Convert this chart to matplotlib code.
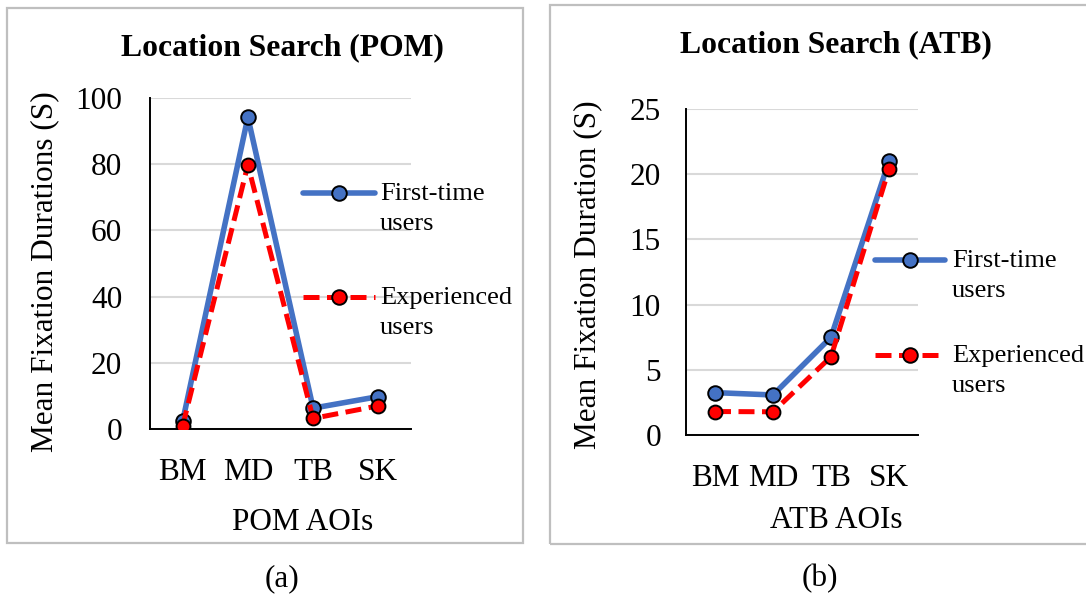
import matplotlib
matplotlib.use("Agg")
import matplotlib.pyplot as plt
from matplotlib.lines import Line2D
from matplotlib.patches import Rectangle

plt.rcParams["font.family"] = ["Liberation Serif", "DejaVu Serif"]

W, H = 1086, 594

aois = ["BM", "MD", "TB", "SK"]
pom_first_time = [2.3, 94.2, 6.3, 9.8]
pom_experienced = [0.9, 79.8, 3.2, 7.0]
atb_first_time = [3.25, 3.07, 7.5, 21.0]
atb_experienced = [1.8, 1.78, 6.0, 20.4]

blue = "#4472C4"
red = "#FF0000"
grid_col = "#D9D9D9"
border_col = "#BFBFBF"
red_dash = (0, (3.2, 1.5))


def px_axes(fig, x0, y0, x1, y1):
    return fig.add_axes([x0 / W, 1 - y1 / H, (x1 - x0) / W, (y1 - y0) / H])


def draw_panel(ax, first, exp, ymax, ystep, ypad):
    x = range(len(aois))
    ax.plot(x, first, color=blue, lw=4.0, marker="o", ms=10.5,
            mfc=blue, mec="black", mew=1.4, solid_capstyle="round", zorder=3)
    ax.plot(x, exp, color=red, lw=3.6, ls=red_dash, marker="o", ms=10,
            mfc=red, mec="black", mew=1.4, zorder=4)
    ax.set_xlim(-0.5, len(aois) - 0.5)
    ax.set_ylim(0, ymax)
    ax.set_yticks(range(0, ymax + 1, ystep))
    ax.set_xticks(list(x))
    ax.set_xticklabels(aois)
    ax.tick_params(axis="both", length=0, labelsize=22.5)
    ax.tick_params(axis="y", pad=ypad)
    ax.tick_params(axis="x", pad=21)
    ax.grid(axis="y", color=grid_col, lw=1.5)
    ax.set_axisbelow(True)
    for s in ["top", "right"]:
        ax.spines[s].set_visible(False)
    for s in ["left", "bottom"]:
        ax.spines[s].set_linewidth(1.4)
        ax.spines[s].set_color("black")
    ax.patch.set_alpha(0)


def legend(fig, x0, x1, xt, y_first, y_exp):
    for y, col, ls, lab, lw in [(y_first, blue, "-", "First-time\nusers", 4.0),
                                (y_exp, red, red_dash, "Experienced\nusers", 3.6)]:
        fig.add_artist(Line2D([x0 / W, x1 / W], [1 - y / H] * 2, color=col, lw=lw, ls=ls,
                              solid_capstyle="round"))
        fig.add_artist(Line2D([(x0 + x1) / 2 / W], [1 - y / H], marker="o", ms=10.5,
                              mfc=col, mec="black", mew=1.4))
        fig.text(xt / W, 1 - (y - 10) / H, lab, fontsize=19, va="top", ha="left",
                 linespacing=1.45)


fig = plt.figure(figsize=(W / 100, H / 100), dpi=100)

# panel borders
fig.add_artist(Rectangle((7 / W, 1 - 543 / H), (523 - 7) / W, (543 - 8) / H,
                         transform=fig.transFigure, fill=False, ec=border_col, lw=1.6))
fig.add_artist(Rectangle((550 / W, 1 - 544 / H), (1100 - 550) / W, (544 - 5) / H,
                         transform=fig.transFigure, fill=False, ec=border_col, lw=1.6))

# (a) POM
ax1 = px_axes(fig, 150, 98, 411, 429)
draw_panel(ax1, pom_first_time, pom_experienced, 100, 20, 20)
fig.text(282 / W, 1 - 48 / H, "Location Search (POM)", fontsize=22.8, fontweight="bold",
         ha="center", va="center")
fig.text(45 / W, 1 - 272 / H, "Mean Fixation Durations (S)", fontsize=22.5,
         rotation=90, ha="center", va="center")
fig.text(303 / W, 1 - 522 / H, "POM AOIs", fontsize=22.5, ha="center", va="center")
legend(fig, 303, 375, 380, 193, 297)
fig.text(282 / W, 1 - 579 / H, "(a)", fontsize=22.5, ha="center", va="center")

# (b) ATB
ax2 = px_axes(fig, 686, 109, 918, 435)
draw_panel(ax2, atb_first_time, atb_experienced, 25, 5, 18)
fig.text(836 / W, 1 - 45 / H, "Location Search (ATB)", fontsize=22.8, fontweight="bold",
         ha="center", va="center")
fig.text(588 / W, 1 - 275 / H, "Mean Fixation Duration (S)", fontsize=22.5,
         rotation=90, ha="center", va="center")
fig.text(836 / W, 1 - 520 / H, "ATB AOIs", fontsize=22.5, ha="center", va="center")
legend(fig, 875, 945, 952, 260, 355)
fig.text(820 / W, 1 - 579 / H, "(b)", fontsize=22.5, ha="center", va="center")

fig.savefig("out.png", dpi=100)
